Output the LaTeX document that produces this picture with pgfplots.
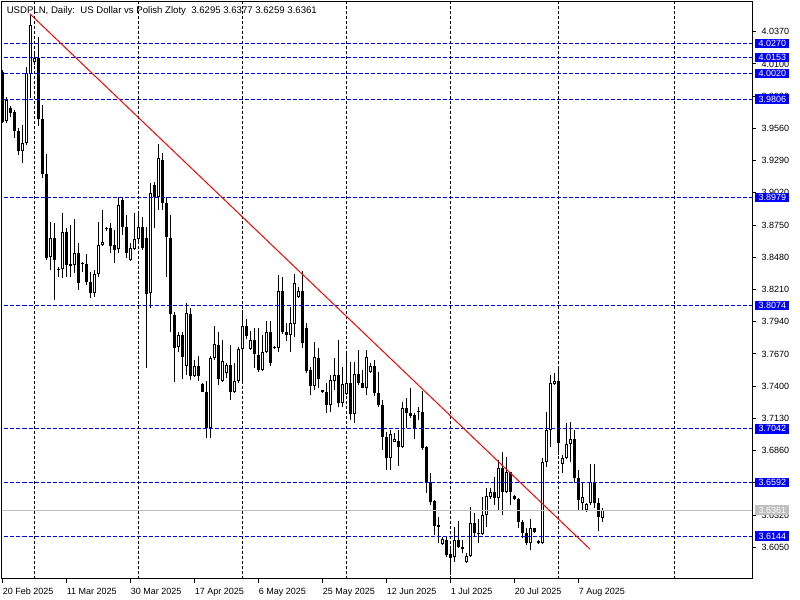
\documentclass[border=0pt]{standalone}
\usepackage{pgfplots}
\pgfplotsset{compat=1.18}
\usepackage{pgfplotstable}
\usepackage{fontspec}
\setmainfont{Liberation Sans}
\definecolor{silverC}{RGB}{192,192,192}
\definecolor{mtblue}{RGB}{0,0,255}
\newcommand{\fs}{\fontsize{6.75}{8}\selectfont}

\pgfplotstableread{
i O H L C
0 4.0035 4.0049 3.9602 3.9616
1 3.9622 3.9820 3.9602 3.9798
2 3.9728 3.9748 3.9653 3.9692
3 3.9695 3.9714 3.9477 3.9541
4 3.9541 3.9560 3.9337 3.9373
5 3.9373 3.9588 3.9267 3.9435
6 3.9435 4.0072 3.9421 4.0021
7 4.0016 4.0518 3.9812 4.0426
8 4.0113 4.0189 4.0091 4.0147
9 4.0147 4.0323 3.9580 3.9636
10 3.9636 3.9756 3.9142 3.9175
11 3.9175 3.9343 3.8457 3.8471
12 3.8480 3.8778 3.8373 3.8639
13 3.8639 3.8764 3.8122 3.8457
14 3.8385 3.8401 3.8318 3.8373
15 3.8379 3.8848 3.8304 3.8695
16 3.8695 3.8723 3.8318 3.8415
17 3.8407 3.8751 3.8318 3.8424
18 3.8415 3.8798 3.8346 3.8513
19 3.8513 3.8597 3.8206 3.8267
20 3.8435 3.8443 3.8359 3.8424
21 3.8424 3.8505 3.8248 3.8276
22 3.8276 3.8359 3.8136 3.8178
23 3.8178 3.8373 3.8144 3.8337
24 3.8337 3.8778 3.8318 3.8583
25 3.8583 3.8876 3.8577 3.8605
26 3.8717 3.8737 3.8703 3.8725
27 3.8723 3.8764 3.8513 3.8575
28 3.8583 3.8709 3.8429 3.8541
29 3.8547 3.8988 3.8513 3.8918
30 3.8960 3.8974 3.8667 3.8737
31 3.8737 3.8834 3.8471 3.8519
32 3.8457 3.8597 3.8452 3.8555
33 3.8547 3.8848 3.8541 3.8630
34 3.8630 3.8862 3.8597 3.8731
35 3.8731 3.8820 3.8541 3.8555
36 3.8639 3.8737 3.7550 3.8172
37 3.8178 3.9100 3.8052 3.9016
38 3.9086 3.9114 3.8723 3.8988
39 3.8988 3.9430 3.8877 3.9310
40 3.9296 3.9357 3.8877 3.8933
41 3.8933 3.8988 3.8318 3.8648
42 3.8639 3.8835 3.7857 3.8002
43 3.7997 3.8025 3.7433 3.7718
44 3.7732 3.7857 3.7690 3.7829
45 3.7829 3.7857 3.7458 3.7648
46 3.7572 3.8100 3.7494 3.8011
47 3.8005 3.8053 3.7452 3.7489
48 3.7489 3.7620 3.7480 3.7570
49 3.7570 3.7653 3.7447 3.7489
50 3.7416 3.7424 3.7349 3.7354
51 3.7349 3.7447 3.6963 3.7053
52 3.7053 3.7653 3.6963 3.7634
53 3.7634 3.7905 3.7620 3.7751
54 3.7746 3.7857 3.7410 3.7458
55 3.7447 3.7787 3.7438 3.7614
56 3.7508 3.7597 3.7466 3.7575
57 3.7575 3.7746 3.7285 3.7349
58 3.7349 3.7592 3.7341 3.7444
59 3.7444 3.7732 3.7424 3.7712
60 3.7709 3.8039 3.7438 3.7905
61 3.7905 3.7961 3.7793 3.7824
62 3.7712 3.7863 3.7704 3.7787
63 3.7787 3.7885 3.7550 3.7667
64 3.7662 3.7885 3.7522 3.7536
65 3.7536 3.7829 3.7530 3.7684
66 3.7684 3.7947 3.7676 3.7852
67 3.7852 3.7947 3.7570 3.7597
68 3.7726 3.7737 3.7709 3.7718
69 3.7718 3.8332 3.7684 3.8201
70 3.8201 3.8312 3.7838 3.7852
71 3.7857 3.7933 3.7782 3.7829
72 3.7829 3.8067 3.7690 3.7927
73 3.7919 3.8340 3.7815 3.8262
74 3.8145 3.8234 3.8137 3.8198
75 3.8198 3.8368 3.7718 3.7759
76 3.7884 3.7926 3.7507 3.7529
77 3.7535 3.7563 3.7326 3.7404
78 3.7404 3.7772 3.7367 3.7641
79 3.7633 3.7717 3.7381 3.7457
80 3.7348 3.7368 3.7345 3.7365
81 3.7354 3.7423 3.7178 3.7242
82 3.7242 3.7493 3.7186 3.7451
83 3.7446 3.7633 3.7367 3.7493
84 3.7493 3.7786 3.7222 3.7256
85 3.7256 3.7563 3.7222 3.7418
86 3.7334 3.7675 3.7326 3.7423
87 3.7423 3.7605 3.7116 3.7164
88 3.7164 3.7605 3.7088 3.7502
89 3.7502 3.7703 3.7409 3.7423
90 3.7429 3.7535 3.7381 3.7387
91 3.7387 3.7703 3.7326 3.7641
92 3.7515 3.7591 3.7507 3.7571
93 3.7569 3.7619 3.7317 3.7340
94 3.7340 3.7521 3.7228 3.7242
95 3.7242 3.7284 3.6865 3.6971
96 3.6976 3.7018 3.6697 3.6795
97 3.6795 3.7032 3.6697 3.6996
98 3.6935 3.7004 3.6929 3.6957
99 3.6940 3.7032 3.6733 3.6893
100 3.6893 3.7270 3.6879 3.7214
101 3.7214 3.7298 3.7052 3.7178
102 3.7178 3.7381 3.7130 3.7150
103 3.7158 3.7172 3.6954 3.7046
104 3.7180 3.7222 3.7116 3.7189
105 3.7186 3.7362 3.6865 3.6884
106 3.6893 3.6898 3.6507 3.6594
107 3.6594 3.6675 3.6404 3.6432
108 3.6437 3.6446 3.6153 3.6231
109 3.6234 3.6306 3.6083 3.6222
110 3.6074 3.6139 3.6069 3.6119
111 3.6111 3.6144 3.5971 3.5985
112 3.5991 3.6055 3.5817 3.5963
113 3.5966 3.6220 3.5924 3.6111
114 3.6111 3.6273 3.6041 3.6055
115 3.6049 3.6111 3.5999 3.6033
116 3.5924 3.6005 3.5915 3.5980
117 3.5980 3.6390 3.5971 3.6250
118 3.6250 3.6334 3.6139 3.6167
119 3.6172 3.6284 3.6088 3.6161
120 3.6161 3.6474 3.6153 3.6320
121 3.6320 3.6544 3.6222 3.6479
122 3.6468 3.6544 3.6452 3.6510
123 3.6510 3.6636 3.6404 3.6460
124 3.6460 3.6781 3.6362 3.6711
125 3.6711 3.6851 3.6320 3.6516
126 3.6516 3.6803 3.6502 3.6678
127 3.6678 3.6683 3.6404 3.6516
128 3.6479 3.6488 3.6446 3.6452
129 3.6452 3.6460 3.6209 3.6264
130 3.6264 3.6278 3.6125 3.6167
131 3.6167 3.6209 3.6069 3.6083
132 3.6083 3.6284 3.6027 3.6209
133 3.6209 3.6215 3.6167 3.6181
134 3.6102 3.6111 3.6077 3.6083
135 3.6083 3.6795 3.6074 3.6762
136 3.6762 3.7186 3.6725 3.7032
137 3.7032 3.7493 3.6893 3.7423
138 3.7415 3.7507 3.7410 3.7443
139 3.7443 3.7558 3.6823 3.6921
140 3.6748 3.6823 3.6669 3.6801
141 3.6801 3.7088 3.6789 3.6912
142 3.6912 3.7102 3.6767 3.6954
143 3.6954 3.7032 3.6586 3.6633
144 3.6633 3.6697 3.6362 3.6446
145 3.6418 3.6591 3.6362 3.6468
146 3.6362 3.6418 3.6348 3.6410
147 3.6418 3.6748 3.6404 3.6600
148 3.6591 3.6748 3.6376 3.6418
149 3.6418 3.6466 3.6189 3.6301
150 3.6295 3.6377 3.6259 3.6361
}\candles

\pgfplotsset{
  candle/.style={draw=none, mark=none, forget plot, unbounded coords=discard,
    error bars/.cd, y dir=plus, y explicit, error mark=none},
}

\begin{document}
\begin{tikzpicture}[font=\fs]
\path[use as bounding box, fill=white] (0,0) rectangle (600pt,450pt);
\begin{axis}[
  at={(1.5pt,15.75pt)}, anchor=south west,
  scale only axis, width=562.5pt, height=432.75pt,
  xmin=-0.125, xmax=187.375, ymin=3.5784, ymax=4.0619,
  axis line style={line width=0.75pt, black},
  tick align=outside, major tick length=3pt,
  tick style={black, line width=0.75pt},
  ytick pos=right, yticklabel pos=right,
  ytick={4.0370,4.0100,3.9830,3.9560,3.9290,3.9020,3.8750,3.8480,3.8210,3.7940,3.7670,3.7400,3.7130,3.6860,3.6590,3.6320,3.6050},
  yticklabels={4.0370,4.0100,3.9830,3.9560,3.9290,3.9020,3.8750,3.8480,3.8210,3.7940,3.7670,3.7400,3.7130,3.6860,3.6590,3.6320,3.6050},
  yticklabel style={anchor=west, inner sep=0pt, xshift=4pt, font=\fs},
  xtick pos=bottom,
  xtick={0,16,32,48,64,80,96,112,128,144},
  xticklabels={20 Feb 2025,11 Mar 2025,30 Mar 2025,17 Apr 2025,6 May 2025,25 May 2025,12 Jun 2025,1 Jul 2025,20 Jul 2025,7 Aug 2025},
  xticklabel style={anchor=north west, inner sep=0pt, xshift=0pt, yshift=-3.6pt, font=\fs},
  extra x ticks={7.95,33.95,59.95,85.95,111.95,138.95,168.05},
  extra x tick labels={},
  extra x tick style={xmajorgrids=true, major tick length=0pt,
    major grid style={black, line width=0.75pt, dash pattern=on 2.25pt off 1.5pt}},
  scaled y ticks=false,
  clip=true,
]
% wicks
\addplot[candle, error bar style={draw=black, line width=0.75pt}]
  table[x=i, y=L, y error expr={\thisrow{H}-\thisrow{L}}] {\candles};
% bear bodies
\addplot[candle, error bar style={draw=black, line width=2.25pt}]
  table[x=i, y expr={\thisrow{C}<\thisrow{O} ? \thisrow{C} : nan}, y error expr={\thisrow{O}-\thisrow{C}}] {\candles};
% bull bodies outline
\addplot[candle, error bar style={draw=black, line width=2.25pt}]
  table[x=i, y expr={\thisrow{C}>=\thisrow{O} ? \thisrow{O} : nan}, y error expr={\thisrow{C}-\thisrow{O}}] {\candles};
% bull bodies interior
\addplot[candle, error bar style={draw=white, line width=0.75pt}]
  table[x=i, y expr={\thisrow{C}-\thisrow{O} > 0.0017 ? \thisrow{O}+0.00084 : nan}, y error expr={\thisrow{C}-\thisrow{O}-0.00168}] {\candles};
% horizontal lines
\pgfplotsinvokeforeach{4.0270,4.0153,4.0020,3.9806,3.8979,3.8074,3.7042,3.6592,3.6144}{
  \addplot[color=mtblue, line width=0.75pt, dash pattern=on 3pt off 1.5pt, forget plot] coordinates {(-1,#1) (190,#1)};
}
\addplot[color=silverC, line width=0.75pt, forget plot] coordinates {(-1,3.6361) (190,3.6361)};
% trend line
\addplot[color=red, line width=0.75pt, forget plot] coordinates {(6.875,4.0519) (146.9,3.6033)};
\coordinate (b1) at (axis cs:187.375,4.0270);
\coordinate (b2) at (axis cs:187.375,4.0153);
\coordinate (b3) at (axis cs:187.375,4.0020);
\coordinate (b4) at (axis cs:187.375,3.9806);
\coordinate (b5) at (axis cs:187.375,3.8979);
\coordinate (b6) at (axis cs:187.375,3.8074);
\coordinate (b7) at (axis cs:187.375,3.7042);
\coordinate (b8) at (axis cs:187.375,3.6592);
\coordinate (b9) at (axis cs:187.375,3.6144);
\coordinate (g1) at (axis cs:187.375,3.6361);
\end{axis}
\foreach \n/\v in {b1/4.0270,b2/4.0153,b3/4.0020,b4/3.9806,b5/3.8979,b6/3.8074,b7/3.7042,b8/3.6592,b9/3.6144}{
  \node[fill=mtblue, text=white, anchor=west, inner sep=0pt, minimum width=25.5pt, minimum height=7pt, font=\fs] at ([xshift=2.25pt]\n) {\v};
}
\node[fill=silverC, text=white, anchor=west, inner sep=0pt, minimum width=25.5pt, minimum height=7pt, font=\fs] at ([xshift=2.25pt]g1) {3.6361};
\node[anchor=base west, inner sep=0pt, font=\fontsize{7.2}{8}\selectfont] at (4.9pt,440pt) {USDPLN, Daily:\ \ US Dollar vs Polish Zloty\ \ 3.6295 3.6377 3.6259 3.6361};
\end{tikzpicture}
\end{document}
